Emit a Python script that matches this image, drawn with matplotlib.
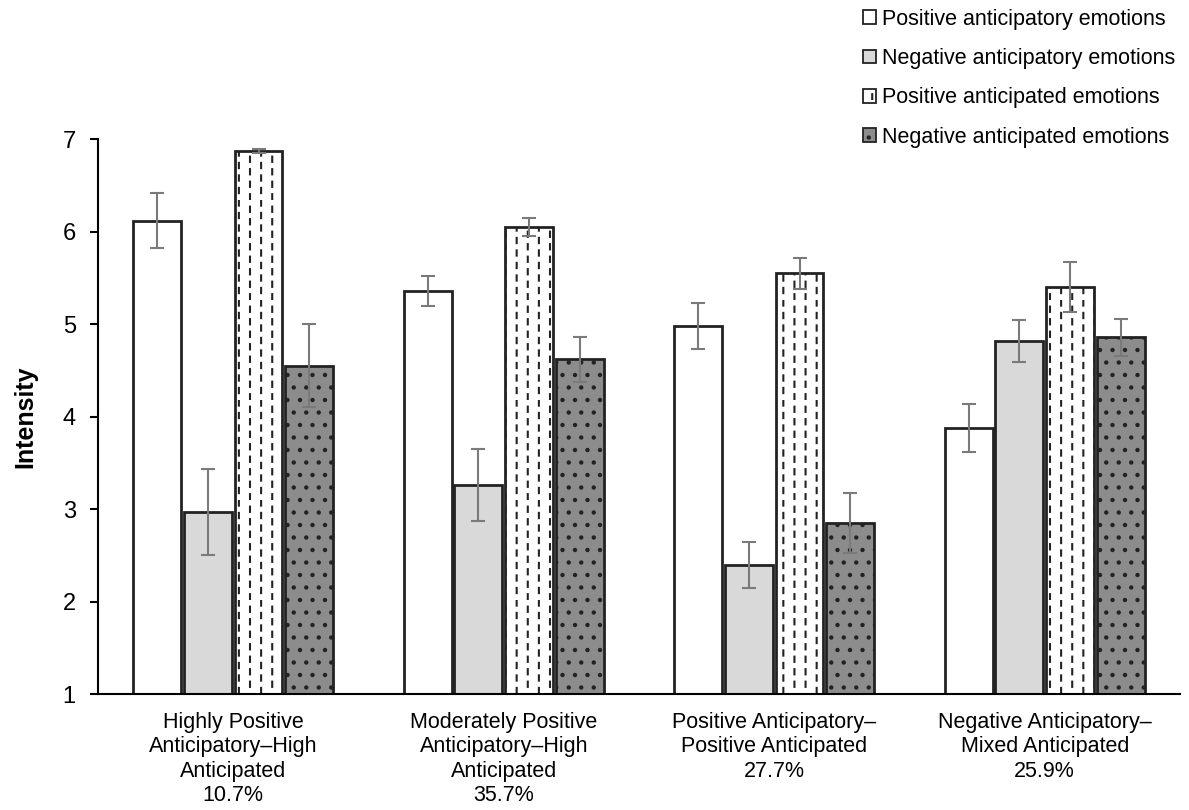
import warnings
import numpy as np
import matplotlib.pyplot as plt
from matplotlib import hatch as mhatch
from matplotlib.path import Path

warnings.filterwarnings('ignore')
plt.rcParams['font.family'] = ['Liberation Sans', 'DejaVu Sans']
plt.rcParams['hatch.linewidth'] = 1.5


class VerticalDashes(mhatch.HatchPatternBase):
    # '!' -> staggered short vertical dashes
    def __init__(self, hatch, density):
        self.cols = 9 if '!' in hatch else 0
        self.rows = 8
        self.num_vertices = self.cols * self.rows * 2

    def set_vertices_and_codes(self, vertices, codes):
        k = 0
        for c in range(self.cols):
            for r in range(self.rows):
                xx = (c + 0.5) / self.cols
                y0 = (r + 0.5 * (c % 2) + 0.05) / self.rows
                vertices[k] = [xx, y0]
                vertices[k + 1] = [xx, y0 + 0.42 / self.rows]
                codes[k] = Path.MOVETO
                codes[k + 1] = Path.LINETO
                k += 2


class SparseDots(mhatch.Circles):
    # ';' -> small dots on a staggered grid
    def __init__(self, hatch, density):
        self.size = 0.09
        self.filled = True
        self.num_rows = 8 if ';' in hatch else 0
        super().__init__(hatch, density)


mhatch._hatch_types.append(VerticalDashes)
mhatch._hatch_types.append(SparseDots)

groups = ['Highly Positive\nAnticipatory\u2013High\nAnticipated\n10.7%',
          'Moderately Positive\nAnticipatory\u2013High\nAnticipated\n35.7%',
          'Positive Anticipatory\u2013\nPositive Anticipated\n27.7%',
          'Negative Anticipatory\u2013\nMixed Anticipated\n25.9%']
series = ['Positive anticipatory emotions', 'Negative anticipatory emotions',
          'Positive anticipated emotions', 'Negative anticipated emotions']

pos_antory = [6.12, 5.36, 4.98, 3.88]
neg_antory = [2.97, 3.26, 2.40, 4.82]
pos_anted = [6.87, 6.05, 5.55, 5.40]
neg_anted = [4.55, 4.62, 2.85, 4.86]

pos_antory_err = [0.30, 0.16, 0.25, 0.26]
neg_antory_err = [0.47, 0.39, 0.25, 0.23]
pos_anted_err = [0.02, 0.10, 0.17, 0.27]
neg_anted_err = [0.45, 0.24, 0.32, 0.20]

values = [pos_antory, neg_antory, pos_anted, neg_anted]
errors = [pos_antory_err, neg_antory_err, pos_anted_err, neg_anted_err]
faces = ['white', '#d9d9d9', 'white', '#8c8c8c']
hatches = [None, None, '!', ';']

fig = plt.figure(figsize=(11.89, 8.10), dpi=100)
ax = fig.add_axes([0.0824, 0.143, 0.910, 0.685])

x = np.arange(len(groups))
width = 0.177
for i in range(4):
    offs = (i - 1.5) * 0.187
    ax.bar(x + offs, np.array(values[i]) - 1, width, bottom=1,
           color=faces[i], edgecolor='#222222', linewidth=2,
           hatch=hatches[i], label=series[i])
    ax.errorbar(x + offs, values[i], yerr=errors[i], fmt='none',
                ecolor='#7a7a7a', elinewidth=1.5, capsize=5, capthick=1.5)

ax.set_ylim(1, 7)
ax.set_xlim(-0.5, 3.5)
ax.set_yticks(range(1, 8))
ax.tick_params(axis='y', labelsize=17, direction='out', length=6, width=1.5, pad=10)
ax.tick_params(axis='x', labelsize=15.5, length=0, pad=13)
ax.set_xticks(x)
ax.set_xticklabels(groups, linespacing=1.2)
ax.set_ylabel('Intensity', fontsize=18, fontweight='bold', labelpad=18)
for s in ['top', 'right']:
    ax.spines[s].set_visible(False)
ax.spines['left'].set_linewidth(1.5)
ax.spines['bottom'].set_linewidth(1.5)

leg = ax.legend(loc='upper right', bbox_to_anchor=(1.014, 1.27), frameon=False,
                fontsize=15.5, handlelength=0.6, handleheight=0.6,
                handletextpad=0.3, labelspacing=0.85)
for h in leg.legend_handles:
    h.set_linewidth(1.3)

fig.savefig('out.png', dpi=100)
